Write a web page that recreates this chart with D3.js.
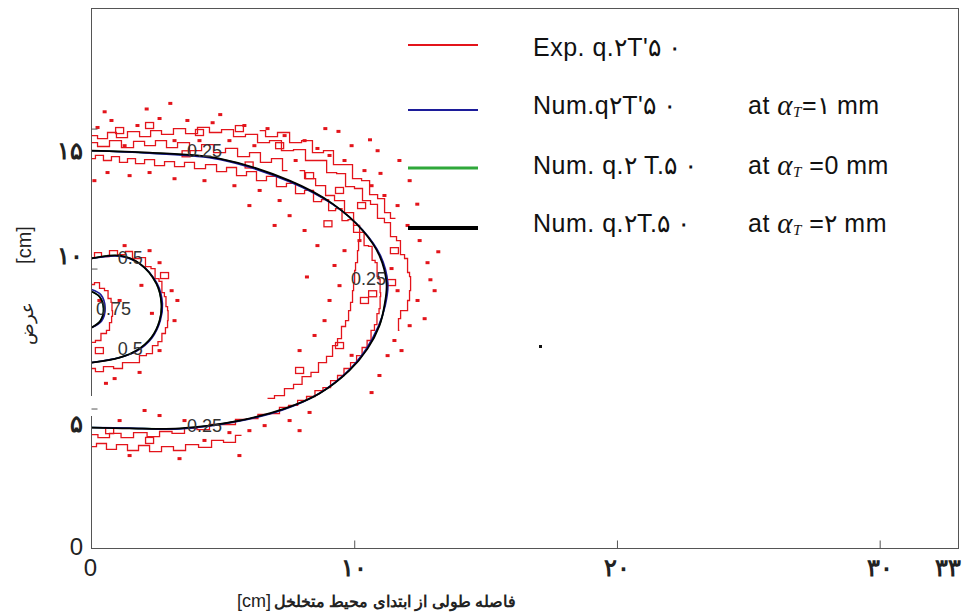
<!DOCTYPE html>
<html>
<head>
<meta charset="utf-8">
<title>Exp / Num contours q0.2 T50</title>
<script src="https://cdn.jsdelivr.net/npm/d3@7"></script>
<style>
  body { margin: 0; background: #fff; }
  svg text { font-family: Arial, "Liberation Sans", sans-serif; }
</style>
</head>
<body>
<div id="chart"></div>
<script>
// ---- axes ----
const xTicks = [10, 20, 30];
const xTickLabels = ["0", "۱۰", "۲۰", "۳۰", "۳۳"];
const xLabelAt = [0, 10, 20, 30, 32.6];
const yTicks = [5, 10, 15];
const yTickLabels = ["0", "۵", "۱۰", "۱۵"];
const yLabelAt = [0.08, 4.46, 10.46, 14.21];

// ---- numerical contours (x cm, y cm) ----
const numOuterBlack = [[0,14.21],[2.21,14.14],[4.87,13.93],[7.54,13.14],[9.17,12.32],[10.32,11.36],[10.96,10.46],[11.23,9.46],[11.15,8.68],[10.96,7.96],[10.51,7.14],[9.82,6.36],[8.68,5.54],[7.35,5.0],[5.63,4.57],[3.35,4.29],[1.45,4.29],[0,4.32]];
const numOuterBlue = [[0,14.21],[2.21,14.12],[4.87,13.9],[7.54,13.1],[9.17,12.3],[10.32,11.38],[11.0,10.46],[11.28,9.46],[11.18,8.68],[10.93,7.96],[10.45,7.12],[9.74,6.32],[8.6,5.5],[7.3,4.96],[5.6,4.55],[3.35,4.27],[1.45,4.3],[0,4.32]];
const numOuterGreen = [[0,14.21],[2.21,14.13],[4.87,13.92],[7.54,13.12],[9.17,12.31],[10.32,11.37],[10.98,10.46],[11.25,9.46],[11.16,8.68],[10.95,7.96],[10.48,7.13],[9.78,6.34],[8.64,5.52],[7.33,4.98],[5.62,4.56],[3.35,4.28],[1.45,4.3],[0,4.32]];
const numMidBlack = [[0,10.36],[1.07,10.46],[1.83,10.18],[2.47,9.46],[2.66,8.75],[2.59,8.14],[2.28,7.54],[1.71,7.07],[1.07,6.82],[0,6.64]];
const numMidBlue = [[0,10.36],[1.07,10.44],[1.85,10.16],[2.5,9.46],[2.7,8.75],[2.62,8.14],[2.3,7.52],[1.72,7.05],[1.07,6.82],[0,6.64]];
const numInnerBlack = [[0,9.18],[0.30,9.0],[0.46,8.57],[0.34,8.14],[0,7.89]];
const numInnerBlue = [[0,9.25],[0.36,9.06],[0.52,8.57],[0.38,8.12],[0,7.89]];

const levelLabels = ["0.25", "0.25", "0.25", "0.5", "0.5", "0.75"];
const levelLabelAt = [[4.3,14.21],[10.54,9.64],[4.3,4.39],[1.48,10.36],[1.48,7.11],[0.84,8.57]];

const expR1 = [[0,13.93],[0.30,14.04],[0.61,13.86],[0.91,14.0],[1.22,13.79],[1.52,13.93],[1.83,13.75],[2.21,13.89],[2.59,13.68],[2.97,13.82],[3.35,13.64],[3.73,13.79],[4.11,13.57],[4.57,13.71],[4.95,13.46],[5.33,13.61],[5.71,13.32],[6.09,13.46],[6.47,13.14],[6.85,13.29],[7.23,12.93],[7.61,13.04],[7.92,12.68],[8.30,12.79],[8.60,12.39],[8.91,12.46],[9.14,12.07],[9.44,12.14],[9.63,11.71],[9.90,11.75],[10.05,11.29],[10.32,11.29],[10.43,10.82],[10.66,10.79],[10.70,10.29],[10.89,10.21],[10.85,9.71],[11.04,9.61],[10.93,9.14],[11.08,9.0],[10.89,8.57],[11.0,8.39],[10.73,8.0],[10.81,7.79],[10.47,7.43],[10.51,7.18],[10.09,6.89],[10.09,6.64],[9.63,6.43],[9.59,6.18],[9.14,6.0],[9.06,5.75],[8.56,5.64],[8.45,5.43],[7.92,5.29],[7.77,5.11],[7.23,5.04],[7.08,4.82],[6.47,4.79],[6.20,4.64],[5.63,4.61],[5.33,4.43],[4.68,4.43],[4.30,4.25],[3.73,4.29],[3.35,4.11],[2.78,4.18],[2.40,4.0],[1.83,4.14],[1.37,3.96],[0.88,4.11],[0.49,3.96],[0,4.07]];
const expR2 = [[0,14.75],[0.46,14.64],[0.76,14.86],[1.14,14.68],[1.60,14.89],[2.06,14.71],[2.44,14.93],[2.89,14.79],[3.35,15.0],[3.81,14.82],[4.26,15.04],[4.72,14.86],[5.18,14.96],[5.63,14.71],[6.09,14.79],[6.55,14.5],[7.0,14.57],[7.46,14.21],[7.92,14.25],[8.37,13.86],[8.76,13.86],[9.14,13.43],[9.52,13.39],[9.82,12.93],[10.20,12.86],[10.43,12.43],[10.81,12.29],[10.96,11.79],[11.34,11.64],[11.42,11.14],[11.80,11.0],[11.72,10.5],[12.11,10.36],[11.95,9.86],[12.26,9.71],[12.03,9.21],[12.18,8.86],[11.88,8.5],[11.65,8.21],[11.72,7.79]];
const expR3 = [[0,3.64],[0.38,3.75],[0.76,3.54],[1.14,3.71],[1.60,3.5],[1.98,3.68],[2.44,3.46],[2.89,3.64],[3.35,3.5],[3.81,3.71],[4.34,3.61],[4.80,3.86],[5.25,3.79],[5.71,4.04]];
const expR4 = [[7.92,13.5],[8.30,13.21],[8.76,12.96],[9.06,12.61],[9.44,12.43],[9.82,12.0],[10.13,11.54],[10.28,11.0],[10.05,10.64],[10.20,10.21],[9.90,9.93],[10.13,9.5],[9.82,9.21],[10.05,8.79],[9.67,8.5],[9.90,8.14],[9.44,7.93],[9.59,7.5],[9.14,7.25],[9.21,6.86],[8.68,6.64],[8.60,6.29],[8.11,6.14],[7.92,5.86],[7.46,5.71],[7.23,5.46],[6.70,5.36]];
const expR7 = [[0,14.5],[0.46,14.36],[0.91,14.57],[1.37,14.32],[1.83,14.54],[2.21,14.39],[2.66,14.57],[3.05,14.32],[3.50,14.5],[3.96,14.21],[4.42,14.43],[4.87,14.14],[5.33,14.29],[5.79,14.0],[6.24,14.14],[6.62,13.79],[7.08,13.93],[7.46,13.5]];
const expR9 = [[6.40,14.93],[6.85,14.71],[7.31,14.86],[7.77,14.5],[8.22,14.57],[8.60,14.14],[9.06,14.21],[9.36,13.71],[9.82,13.71],[10.05,13.21],[10.51,13.14],[10.66,12.64],[11.12,12.5],[11.19,12.0],[11.57,11.79]];
const expR5 = [[0,10.39],[0.23,10.57],[0.53,10.43],[0.84,10.64],[1.14,10.5],[1.45,10.61],[1.67,10.36],[1.98,10.39],[2.13,10.07],[2.40,10.0],[2.44,9.64],[2.70,9.54],[2.66,9.14],[2.89,9.0],[2.78,8.64],[3.01,8.5],[2.82,8.14],[2.97,7.89],[2.66,7.68],[2.70,7.39],[2.36,7.25],[2.28,6.96],[1.90,6.89],[1.75,6.64],[1.29,6.64],[1.07,6.43],[0.61,6.5],[0.30,6.32],[0,6.43]];
const expR6 = [[0,9.43],[0.23,9.5],[0.38,9.29],[0.61,9.21],[0.65,8.93],[0.84,8.79],[0.72,8.5],[0.88,8.29],[0.65,8.07],[0.72,7.79],[0.42,7.68],[0.30,7.43],[0,7.36]];
const expSpecks = [[0.23,15.04],[0.76,15.29],[1.26,14.39],[1.75,15.11],[2.59,15.36],[3.16,14.57],[3.65,15.29],[4.11,14.57],[4.61,15.21],[5.25,14.57],[5.82,15.11],[6.20,14.39],[6.70,15.0],[7.35,14.75],[7.77,13.86],[8.11,14.57],[8.60,14.29],[0.11,13.14],[0.61,13.43],[1.45,13.32],[2.21,13.43],[3.16,13.21],[4.30,13.14],[5.44,12.96],[6.40,12.79],[7.16,12.43],[9.06,14.04],[9.63,13.86],[9.90,14.39],[10.39,13.5],[10.66,12.96],[11.15,12.61],[11.65,12.25],[12.03,11.54],[12.49,11.0],[12.79,10.21],[13.06,9.21],[12.41,8.86],[12.68,8.21],[12.11,7.96],[11.53,7.43],[11.27,6.89],[11.80,7.07],[10.96,6.18],[10.66,5.57],[10.20,11.0],[9.63,10.64],[9.25,10.11],[9.44,9.39],[9.06,8.86],[8.87,8.14],[8.49,7.61],[7.92,7.07],[8.11,11.36],[8.60,10.82],[7.54,11.89],[6.97,11.54],[6.01,12.25],[12.11,13.14],[11.72,13.86],[10.89,14.21],[11.42,10.0],[11.65,9.21],[2.59,4.75],[3.54,4.57],[4.30,3.86],[5.25,4.14],[6.01,4.21],[6.59,4.39],[7.54,4.57],[7.92,4.21],[8.30,4.86],[5.63,3.32],[3.35,3.21],[1.45,3.32],[1.07,4.57],[2.02,4.93],[1.26,10.82],[2.21,10.64],[2.59,10.21],[3.05,9.21],[3.27,8.86],[3.16,8.14],[2.59,7.07],[1.83,6.29],[0.88,6.07],[0.30,8.86],[1.07,8.86],[0.5,15.6],[2.1,15.7],[3.0,15.9],[4.9,15.5],[8.9,15.0],[9.4,14.9],[10.6,14.6],[11.0,13.4],[12.4,12.3],[13.2,10.6],[12.9,9.6],[8.2,9.7],[9.9,6.9],[1.9,9.4],[2.3,8.4],[0.55,5.9]];
const expCells = [[1.07,14.93],[2.21,15.11],[4.11,14.86],[5.63,15.0],[7.16,14.39],[8.30,13.32],[9.44,12.79],[10.28,12.25],[11.53,10.64],[11.42,9.5],[10.39,8.86],[9.44,7.25],[7.92,6.36],[2.21,3.86],[0.69,4.21],[2.78,9.75],[0.30,7.07],[3.6,14.1],[6.0,13.7],[9.0,11.6],[10.7,9.1]];

// ---- legend ----
const legendNames = ["Exp. q.۲T'۵ ۰", "Num.q۲T'۵ ۰", "Num. q.۲ T.۵ ۰", "Num.  q.۲T.۵ ۰"];
const legendAlpha = ["", "=۱  mm", " =0 mm", " =۲ mm"];
const legendColors = ["#e3141b", "#1c1c9a", "#2fa83a", "#000000"];
const legendWidths = [2, 2, 3, 4];

const W = 963, H = 616;
const svg = d3.select("#chart").append("svg").attr("width", W).attr("height", H);

const x = d3.scaleLinear().domain([0, 33]).range([91.5, 958.5]);
const y = d3.scaleLinear().domain([0, 19.29]).range([548.5, 8.5]);

const jag = d3.line().x(d => x(d[0])).y(d => y(d[1])).curve(d3.curveStep);
const smooth = d3.line().x(d => x(d[0])).y(d => y(d[1])).curve(d3.curveCatmullRom.alpha(0.5));

// red experimental contours
const red = legendColors[0];
[expR1, expR2, expR3, expR4, expR5, expR6, expR7, expR9].forEach(function(c) {
  svg.append("path").attr("d", jag(c)).attr("fill", "none")
    .attr("stroke", red).attr("stroke-width", 1.3);
});
svg.selectAll(".speck").data(expSpecks).enter().append("rect")
  .attr("class", "speck")
  .attr("x", d => x(d[0]) - 2).attr("y", d => y(d[1]) - 1.5)
  .attr("width", 4).attr("height", 3)
  .attr("fill", red);
svg.selectAll(".cell").data(expCells).enter().append("rect")
  .attr("class", "cell")
  .attr("x", d => x(d[0]) - 4).attr("y", d => y(d[1]) - 3)
  .attr("width", 8).attr("height", 6)
  .attr("fill", "none").attr("stroke", red).attr("stroke-width", 1.3);

// numerical contours
function drawNum(arr, color, w) {
  arr.forEach(function(c) {
    svg.append("path").attr("d", smooth(c)).attr("fill", "none")
      .attr("stroke", color).attr("stroke-width", w);
  });
}
drawNum([numOuterGreen, numMidBlack, numInnerBlack], legendColors[2], 1.5);
drawNum([numOuterBlue, numMidBlue, numInnerBlue], legendColors[1], 1.6);
drawNum([numOuterBlack, numMidBlack, numInnerBlack], legendColors[3], 1.8);

svg.selectAll(".lvl").data(levelLabels).enter().append("text")
  .attr("class", "lvl")
  .attr("x", (d, i) => x(levelLabelAt[i][0])).attr("y", (d, i) => y(levelLabelAt[i][1]))
  .attr("text-anchor", "middle").attr("dominant-baseline", "central")
  .attr("font-size", 18).attr("fill", "#333")
  .text(d => d);

// frame
svg.append("rect").attr("x", x(0)).attr("y", y(19.29))
  .attr("width", x(33) - x(0)).attr("height", y(0) - y(19.29))
  .attr("fill", "none").attr("stroke", "#555").attr("stroke-width", 1);
// small break in left axis line
svg.append("rect").attr("x", x(0) - 2).attr("y", 396).attr("width", 4).attr("height", 20).attr("fill", "#fff");

// ticks (inward)
svg.append("g").attr("transform", `translate(0,${y(0)})`)
  .call(d3.axisBottom(x).tickValues(xTicks).tickSize(-8).tickFormat(""))
  .call(g => g.select(".domain").remove())
  .selectAll("line").attr("stroke", "#555");
svg.append("g").attr("transform", `translate(${x(0)},0)`)
  .call(d3.axisLeft(y).tickValues(yTicks).tickSize(-6).tickFormat(""))
  .call(g => g.select(".domain").remove())
  .selectAll("line").attr("stroke", "#555");

// tick labels
svg.selectAll(".xl").data(xTickLabels).enter().append("text")
  .attr("class", "xl")
  .attr("x", (d, i) => x(xLabelAt[i]) - (i === 0 ? 1 : 0)).attr("y", 567)
  .attr("text-anchor", "middle").attr("dominant-baseline", "central")
  .attr("font-size", 24)
  .attr("font-weight", (d, i) => i === 0 ? "normal" : "bold")
  .attr("font-family", (d, i) => i === 0 ? "Arial, 'Liberation Sans'" : "'DejaVu Sans'")
  .attr("fill", "#222")
  .text(d => d);
svg.selectAll(".yl").data(yTickLabels).enter().append("text")
  .attr("class", "yl")
  .attr("x", 83).attr("y", (d, i) => y(yLabelAt[i]))
  .attr("text-anchor", "end").attr("dominant-baseline", "central")
  .attr("font-size", 24)
  .attr("font-weight", (d, i) => i === 0 ? "normal" : "bold")
  .attr("font-family", (d, i) => i === 0 ? "Arial, 'Liberation Sans'" : "'DejaVu Sans'")
  .attr("fill", "#222")
  .text(d => d);

// axis titles
svg.append("text").attr("x", 237).attr("y", 601).attr("dominant-baseline", "central")
  .attr("font-size", 18).attr("fill", "#222").text("[cm]");
svg.append("text").attr("x", 395).attr("y", 601).attr("dominant-baseline", "central")
  .attr("text-anchor", "middle").attr("font-family", "'DejaVu Sans'").attr("font-weight", "bold")
  .attr("font-size", 16).attr("fill", "#222").text("فاصله طولی از ابتدای محیط متخلخل");
svg.append("text").attr("transform", "translate(24,245) rotate(-90)")
  .attr("text-anchor", "middle").attr("dominant-baseline", "central")
  .attr("font-size", 20).attr("fill", "#222").text("[cm]");
svg.append("text").attr("transform", "translate(27,323) rotate(-90)")
  .attr("text-anchor", "middle").attr("dominant-baseline", "central")
  .attr("font-family", "'DejaVu Sans'").attr("font-size", 18).attr("fill", "#222").text("عرض");

// legend
const legY = [45, 110, 168, 228];
const legTextY = [47, 105, 165, 223];
legendNames.forEach(function(name, i) {
  svg.append("line").attr("x1", 408).attr("x2", 478).attr("y1", legY[i]).attr("y2", legY[i])
    .attr("stroke", legendColors[i]).attr("stroke-width", legendWidths[i]);
  svg.append("text").attr("x", 533).attr("y", legTextY[i]).attr("dominant-baseline", "central")
    .attr("font-size", 25).attr("letter-spacing", 0.5).attr("fill", "#111").text(name);
  if (legendAlpha[i]) {
    const t = svg.append("text").attr("x", 748).attr("y", legTextY[i])
      .attr("dominant-baseline", "central").attr("font-size", 25).attr("letter-spacing", 0.5)
      .attr("fill", "#111");
    t.append("tspan").text("at ");
    t.append("tspan").attr("font-family", "'Liberation Serif', serif").attr("font-style", "italic")
      .attr("font-size", 29).text("α");
    t.append("tspan").attr("font-family", "'Liberation Serif', serif").attr("font-style", "italic")
      .attr("font-size", 15).attr("dy", 7).text("T");
    t.append("tspan").attr("dy", -7).text(legendAlpha[i]);
  }
});
svg.append("rect").attr("x", 539).attr("y", 345).attr("width", 3).attr("height", 3).attr("fill", "#111");
</script>
</body>
</html>
